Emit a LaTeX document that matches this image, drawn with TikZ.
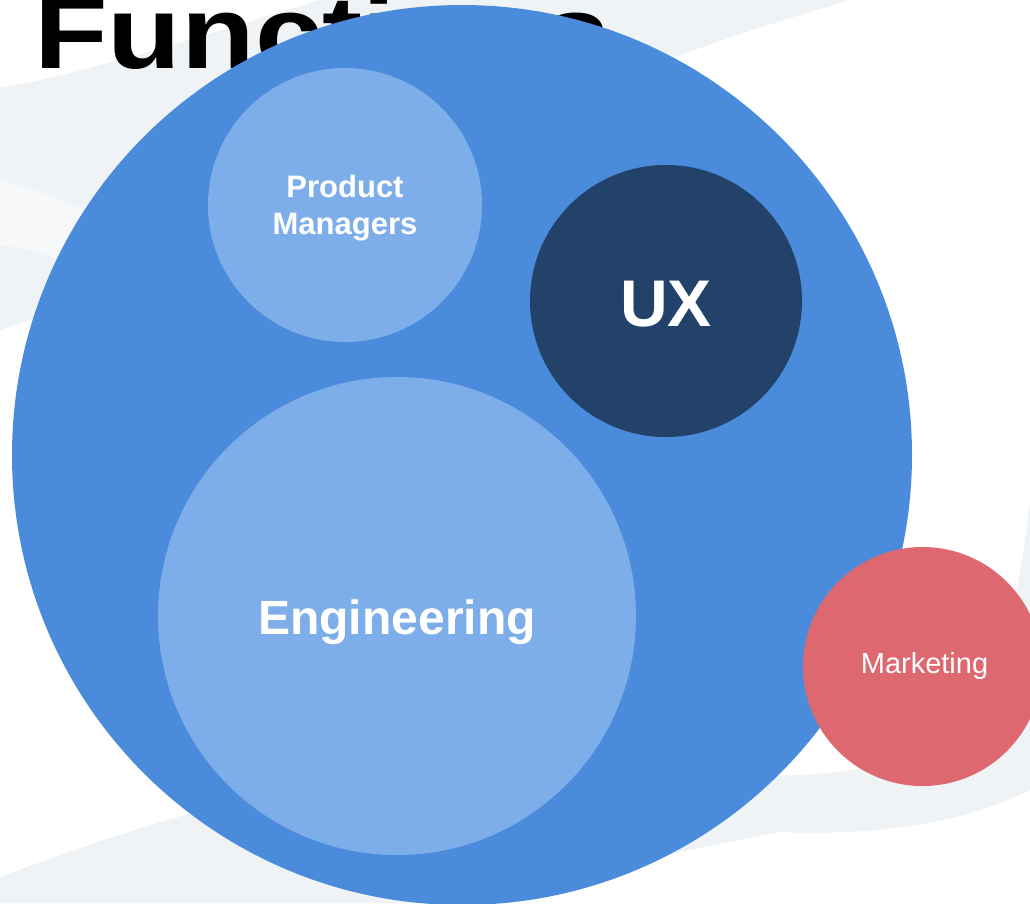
\documentclass[tikz,border=0pt]{standalone}
\usepackage{fontspec}
\setmainfont{Liberation Sans}
\definecolor{outerblue}{HTML}{4A8BDC}
\definecolor{lightblue}{HTML}{7EAEEA}
\definecolor{darkblue}{HTML}{22426A}
\definecolor{mktred}{HTML}{DE6870}
\definecolor{swoosh}{HTML}{EFF3F6}
\definecolor{swooshb}{HTML}{F6F8FA}
\tikzset{
  bubble/.style={circle, inner sep=0pt},
  bubbletext/.style={inner sep=0pt, text=white, align=center},
}
\begin{document}
\begin{tikzpicture}[x=1pt,y=-1pt]
\useasboundingbox (0,0) rectangle (1030,903);
\clip (0,0) rectangle (1030,903);
\fill[white] (0,0) rectangle (1030,903);
% background swooshes
\fill[swoosh] (0,88) .. controls (100,70) and (220,30) .. (320,0) -- (850,0)
  .. controls (750,30) and (650,60) .. (560,110) -- (200,260)
  .. controls (120,290) and (60,310) .. (0,330) -- cycle;
\fill[swooshb] (0,180) .. controls (60,195) and (120,225) .. (170,260) -- (120,290) .. controls (80,265) and (40,250) .. (0,245) -- cycle;
\fill[swoosh] (0,877) .. controls (100,840) and (200,805) .. (300,790) -- (800,775)
  .. controls (950,770) and (1010,700) .. (1030,500) -- (1030,790)
  .. controls (950,830) and (850,835) .. (780,832) -- (420,903) -- (0,903) -- cycle;
% title
\node[anchor=base west, inner sep=0pt, font=\fontsize{103}{103}\selectfont\bfseries] (title) at (34,68) {\scalebox{1.17}[1]{Functions}};
% circles
\node[bubble, fill=outerblue, minimum size=900pt] (functions) at (462,455) {};
\node[bubble, fill=lightblue, minimum size=274pt] (pm) at (345,205) {};
\node[bubble, fill=darkblue, minimum size=272pt] (ux) at (666,301) {};
\node[bubble, fill=lightblue, minimum size=478pt] (eng) at (397,616) {};
\node[bubble, fill=mktred, minimum size=239pt] (mkt) at (922.5,666.5) {};
% labels
\node[bubbletext, font=\fontsize{31}{37}\selectfont\bfseries] (pmlabel) at ([yshift=-3pt]pm.center) {Product\\Managers};
\node[bubbletext, font=\fontsize{66}{66}\selectfont\bfseries] (uxlabel) at ([yshift=-3pt]ux.center) {UX};
\node[bubbletext, font=\fontsize{48}{48}\selectfont\bfseries] (englabel) at ([yshift=-6pt]eng.center) {Engineering};
\node[bubbletext, font=\fontsize{29}{29}\selectfont] (mktlabel) at ([xshift=2pt,yshift=1pt]mkt.center) {Marketing};
\end{tikzpicture}
\end{document}
